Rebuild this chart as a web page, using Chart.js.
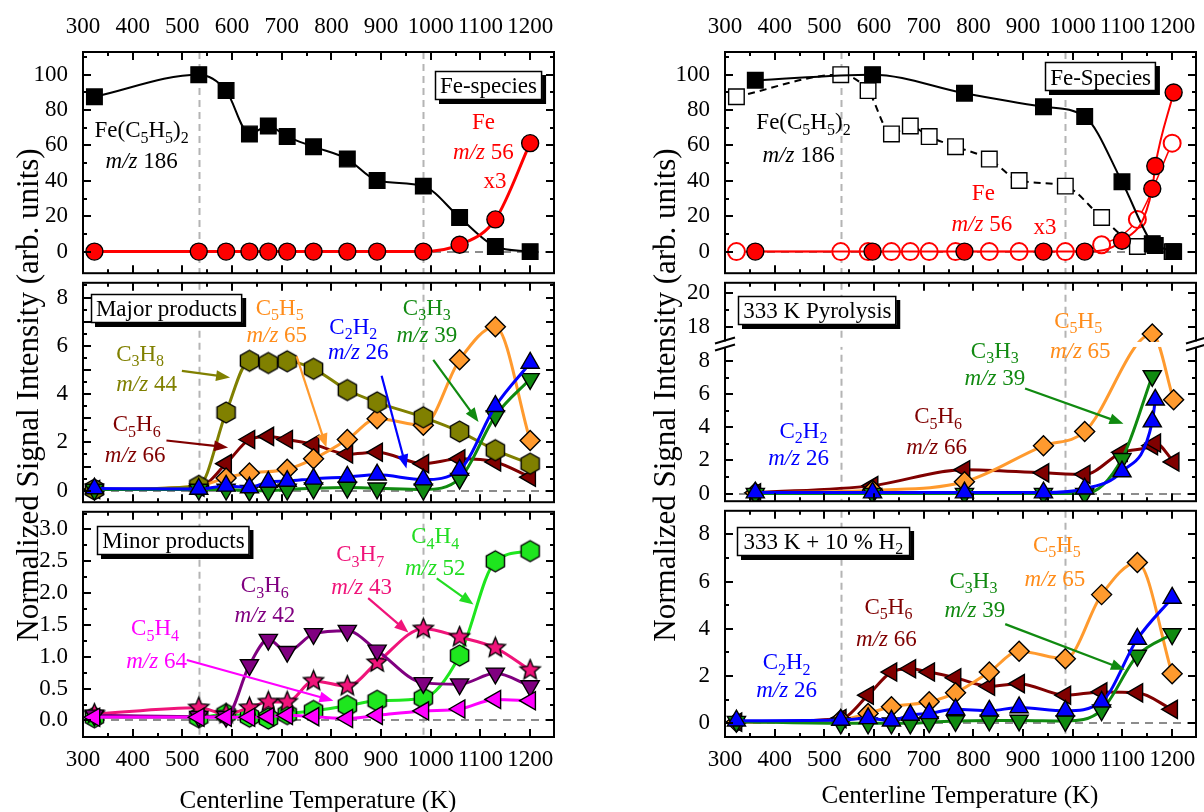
<!DOCTYPE html>
<html>
<head>
<meta charset="utf-8">
<script src="https://cdn.jsdelivr.net/npm/chart.js@4.4.1/dist/chart.umd.min.js"></script>
<style>
  html, body { margin: 0; padding: 0; background: #fff; }
  #wrap { position: relative; width: 1204px; height: 812px; overflow: hidden; background: #fff;
          font-family: "Liberation Serif", "Times New Roman", serif; color: #000; }
  #wrap canvas { position: absolute; }
  .ytitle { position: absolute; width: 640px; height: 36px; line-height: 36px; text-align: center;
            font-size: 31px; transform: rotate(-90deg); white-space: nowrap; }
  .xtitle { position: absolute; width: 400px; height: 32px; line-height: 32px; text-align: center;
            font-size: 25px; white-space: nowrap; }
</style>
</head>
<body>
<div id="wrap">
  <canvas id="feL"></canvas>
  <canvas id="majorL"></canvas>
  <canvas id="minorL"></canvas>
  <canvas id="feR"></canvas>
  <canvas id="pyroR"></canvas>
  <canvas id="h2R"></canvas>
  <div class="ytitle" style="left:-292px; top:377px;">Normalized Signal Intensity (arb. units)</div>
  <div class="ytitle" style="left:345px; top:377px;">Normalized Signal Intensity (arb. units)</div>
  <div class="xtitle" style="left:118px; top:784px;">Centerline Temperature (K)</div>
  <div class="xtitle" style="left:760px; top:779px;">Centerline Temperature (K)</div>
</div>
<script>
// ---------------- temperatures (K) ----------------
const tempsA = [323, 533, 588, 635, 673, 711, 764, 832, 892, 985, 1058, 1130, 1200];
const tempsB = [361, 597, 782, 941, 1024, 1099, 1160, 1166, 1203];
const xTickLabels = [300, 400, 500, 600, 700, 800, 900, 1000, 1100, 1200];
const refLines = [533, 985];

// ---------------- Fe species ----------------
const fecp2 = [87.5, 100, 91, 66.5, 71, 65, 59.3, 52.3, 40.2, 37, 19.3, 2.9, 0];
const fe    = [0, 0, 0, 0, 0, 0, 0, 0, 0, 0, 3.9, 18.2, 61.3];
const fecp2Pyro = [96.8, 100, 89.5, 81.9, 76.3, 39.5, 4.5, 3.5, 0];
const fePyro    = [0, 0, 0, 0, 0, 6.1, 35.5, 48.4, 89.9];

// ---------------- major products ----------------
const c3h8 = [0.05, 0.2, 3.24, 5.38, 5.29, 5.36, 5.05, 4.17, 3.66, 3.04, 2.45, 1.68, 1.12];
const c5h5 = [0.05, 0.2, 0.53, 0.73, null, 0.89, 1.32, 2.12, 2.98, 2.71, 5.42, 6.79, 2.08];
const c2h2 = [0.09, 0.07, 0.2, 0.13, 0.36, 0.4, 0.49, 0.57, 0.66, 0.46, 0.86, 3.5, 5.29];
const c3h3 = [0.05, 0.05, 0.05, 0.0, 0.0, 0.05, 0.1, 0.13, 0.1, 0.05, 0.5, 3.1, 4.63];
const c5h6 = [0.05, 0.15, 1.12, 2.12, 2.25, 2.12, 1.92, 1.52, 1.59, 1.12, 1.32, 1.19, 0.56];

// ---------------- minor products ----------------
const c5h4 = [0.05, 0.05, 0.05, 0.05, 0.06, 0.08, 0.06, 0.03, 0.08, 0.15, 0.18, 0.33, 0.31];
const c3h6 = [0.08, 0.06, 0.06, 0.87, 1.27, 1.08, 1.36, 1.41, 1.10, 0.59, 0.57, 0.74, 0.54];
const c3h7 = [0.1, 0.2, 0.1, 0.2, 0.29, 0.29, 0.62, 0.54, 0.91, 1.44, 1.31, 1.14, 0.79];
const c4h4 = [0.05, 0.05, 0.1, 0.06, 0.03, 0.1, 0.15, 0.23, 0.31, 0.35, 1.02, 2.5, 2.66];

// ---------------- 333 K pyrolysis ----------------
const c5h5Pyro = [0.05, 0.2, 0.71, 2.88, 3.74, null, 17.6, null, 5.66];
const c2h2Pyro = [0.06, 0.06, 0.06, 0.06, 0.29, 1.33, 4.34, 5.66, null];
const c3h3Pyro = [0.0, 0.0, 0.0, 0.0, 0.0, 2.1, 7.1, null, null];
const c5h6Pyro = [0.05, 0.48, 1.44, 1.25, 1.16, 2.49, 2.89, 3.05, 1.91];
const pyroTickLabels = [0, 2, 4, 6, 8, 18, 20];

// ---------------- 333 K + 10 % H2 ----------------
const c5h5H2 = [0.05, 0.15, 0.42, 0.70, null, 0.91, 1.29, 2.17, 3.05, 2.73, 5.45, 6.81, 2.10];
const c2h2H2 = [0.11, 0.14, 0.21, 0.11, 0.35, 0.42, 0.59, 0.53, 0.67, 0.53, 0.91, 3.57, 5.31];
const c3h3H2 = [0.07, 0.0, 0.0, 0.0, 0.0, 0.05, 0.1, 0.12, 0.12, 0.1, 0.56, 2.87, 3.78];
const c5h6H2 = [0.05, 0.2, 1.19, 2.17, 2.31, 2.17, 1.93, 1.57, 1.68, 1.19, 1.33, 1.29, 0.59];

// ---------------- styling ----------------
const FONT = '"Liberation Serif", "Times New Roman", serif';
const COL = {
  black: '#000000', red: '#ff0000', olive: '#808000', orange: '#ff9a2e', blue: '#0000ff',
  green: '#108a10', dkred: '#800000', magenta: '#ff00ff', purple: '#800080',
  pink: '#f0147a', lime: '#1ee61e'
};
const TXT = { orange: '#ff8c1a', green: '#128a12', olive: '#808000', lime: '#22dd22' };

// axis break for the pyrolysis panel: 0..9 kept, 17.. continues above the break
const brk = v => (v <= 9 ? v : 9 + (v - 17) * 1.04);

function pts(xs, ys, f) {
  const out = [];
  xs.forEach((x, i) => { if (ys[i] != null) out.push({ x, y: f ? f(ys[i]) : ys[i] }); });
  return out;
}

function shapeCanvas(kind, fill, r) {
  const s = Math.ceil(r * 2 + 4);
  const c = document.createElement('canvas');
  c.width = s; c.height = s;
  const g = c.getContext('2d');
  g.translate(s / 2, s / 2);
  g.beginPath();
  if (kind === 'hex') {
    for (let i = 0; i < 6; i++) {
      const a = -Math.PI / 2 + i * Math.PI / 3;
      const px = Math.cos(a) * r, py = Math.sin(a) * r;
      i ? g.lineTo(px, py) : g.moveTo(px, py);
    }
  } else {
    for (let i = 0; i < 10; i++) {
      const a = -Math.PI / 2 + i * Math.PI / 5;
      const rr = i % 2 ? r * 0.45 : r;
      const px = Math.cos(a) * rr, py = Math.sin(a) * rr;
      i ? g.lineTo(px, py) : g.moveTo(px, py);
    }
  }
  g.closePath();
  g.fillStyle = fill; g.fill();
  g.lineWidth = 1.4; g.strokeStyle = '#000'; g.stroke();
  return c;
}

function series(xs, ys, o, f) {
  return {
    data: pts(xs, ys, f),
    borderColor: o.line,
    backgroundColor: o.fill,
    borderWidth: o.lw == null ? 3 : o.lw,
    borderDash: o.dash || [],
    pointStyle: o.shape,
    pointRadius: o.r,
    pointRotation: o.rot || 0,
    pointBackgroundColor: o.fill,
    pointBorderColor: o.edge || '#000',
    pointBorderWidth: o.ew == null ? 1.4 : o.ew,
    cubicInterpolationMode: 'monotone',
    fill: false
  };
}

const SQ = { shape: 'rect', r: 11 };
const CIR = { shape: 'circle', r: 8.5 };
const DIA = { shape: 'rectRot', r: 10 };
const UP = { shape: 'triangle', r: 10.5 };
const DOWN = { shape: 'triangle', r: 10.5, rot: 180 };
const LEFT = { shape: 'triangle', r: 10.5, rot: 270 };
const hexOlive = shapeCanvas('hex', COL.olive, 10.5);
const hexLime = shapeCanvas('hex', COL.lime, 10.5);
const starPink = shapeCanvas('star', COL.pink, 10.5);

// ---------------- drawing helpers ----------------
function richText(ctx, text, x, y, color, size) {
  const segs = [];
  let it = false;
  for (let i = 0; i < text.length; i++) {
    const ch = text[i];
    if (ch === '*') { it = !it; continue; }
    if (ch === '_') { segs.push({ t: text[i + 1], sub: true, it }); i++; continue; }
    const last = segs[segs.length - 1];
    if (last && !last.sub && last.it === it) last.t += ch; else segs.push({ t: ch, sub: false, it });
  }
  const fontOf = s => (s.it ? 'italic ' : '') + (s.sub ? Math.round(size * 0.68) : size) + 'px ' + FONT;
  let w = 0;
  segs.forEach(s => { ctx.font = fontOf(s); s.w = ctx.measureText(s.t).width; w += s.w; });
  let cx = x - w / 2;
  const base = y + size * 0.33;
  ctx.fillStyle = color;
  ctx.textBaseline = 'alphabetic';
  ctx.textAlign = 'left';
  segs.forEach(s => { ctx.font = fontOf(s); ctx.fillText(s.t, cx, base + (s.sub ? size * 0.24 : 0)); cx += s.w; });
  return w;
}

function arrow(ctx, x1, y1, x2, y2, color) {
  const a = Math.atan2(y2 - y1, x2 - x1), L = 14, W = 5.5;
  ctx.strokeStyle = color; ctx.fillStyle = color; ctx.lineWidth = 2.2; ctx.setLineDash([]);
  ctx.beginPath(); ctx.moveTo(x1, y1);
  ctx.lineTo(x2 - Math.cos(a) * L * 0.8, y2 - Math.sin(a) * L * 0.8); ctx.stroke();
  ctx.beginPath();
  ctx.moveTo(x2, y2);
  ctx.lineTo(x2 - Math.cos(a) * L - Math.sin(a) * W, y2 - Math.sin(a) * L + Math.cos(a) * W);
  ctx.lineTo(x2 - Math.cos(a) * L + Math.sin(a) * W, y2 - Math.sin(a) * L - Math.cos(a) * W);
  ctx.closePath(); ctx.fill();
}

function decoPlugin(cfg) {
  return {
    id: 'deco',
    beforeDatasetsDraw(chart) {
      const { ctx, chartArea: a, scales: { x, y } } = chart;
      ctx.save();
      ctx.lineWidth = 2;
      ctx.strokeStyle = '#b4b4b4';
      ctx.setLineDash([7, 5]);
      refLines.forEach(t => {
        const px = Math.round(x.getPixelForValue(t)) + 0.5;
        ctx.beginPath(); ctx.moveTo(px, a.top); ctx.lineTo(px, a.bottom); ctx.stroke();
      });
      ctx.strokeStyle = '#8c8c8c';
      ctx.setLineDash([8, 6]);
      const py0 = Math.round(y.getPixelForValue(0));
      ctx.beginPath(); ctx.moveTo(a.left, py0); ctx.lineTo(a.right, py0); ctx.stroke();
      ctx.restore();
    },
    afterDatasetsDraw(chart) {
      const { ctx, chartArea: a, scales: { x, y } } = chart;
      const X = v => x.getPixelForValue(v), Y = v => y.getPixelForValue(v);
      ctx.save();
      ctx.setLineDash([]);
      // gap in the curves at the axis break
      if (cfg.breakAt != null) {
        ctx.fillStyle = '#fff';
        ctx.fillRect(a.left + 1, Y(cfg.breakAt) - 2.5, a.right - a.left - 2, 5);
      }
      // frame
      ctx.strokeStyle = '#000'; ctx.lineWidth = 2;
      ctx.strokeRect(a.left, a.top, a.right - a.left, a.bottom - a.top);
      // inward ticks
      ctx.lineWidth = 2;
      ctx.beginPath();
      for (let t = 300; t <= 1250; t += 50) {
        const len = t % 100 === 0 ? 8 : 4;
        const px = Math.round(X(t));
        if (px <= a.left + 1 || px >= a.right - 1) continue;
        ctx.moveTo(px, a.top); ctx.lineTo(px, a.top + len);
        ctx.moveTo(px, a.bottom); ctx.lineTo(px, a.bottom - len);
      }
      const yt = (v, len) => {
        const py = Math.round(Y(v));
        if (py <= a.top + 1 || py >= a.bottom - 1) return;
        ctx.moveTo(a.left, py); ctx.lineTo(a.left + len, py);
        ctx.moveTo(a.right, py); ctx.lineTo(a.right - len, py);
      };
      cfg.yMajor.forEach(v => yt(v, 8));
      cfg.yMinor.forEach(v => yt(v, 4));
      ctx.stroke();
      // axis break marks
      if (cfg.breakAt != null) {
        const py = Y(cfg.breakAt);
        [a.left, a.right].forEach(px => {
          ctx.fillStyle = '#fff';
          ctx.fillRect(px - 3, py - 3, 6, 6);
          ctx.strokeStyle = '#000'; ctx.lineWidth = 2;
          ctx.beginPath();
          ctx.moveTo(px - 10, py - 1); ctx.lineTo(px + 10, py - 7);
          ctx.moveTo(px - 10, py + 6); ctx.lineTo(px + 10, py);
          ctx.stroke();
        });
      }
      // arrows
      (cfg.arrows || []).forEach(r => arrow(ctx, X(r.from[0]), Y(r.from[1]), X(r.to[0]), Y(r.to[1]), r.c));
      // species labels
      (cfg.texts || []).forEach(tx => richText(ctx, tx.t, X(tx.x), Y(tx.y), tx.c, 23));
      // panel caption box
      if (cfg.box) {
        const b = cfg.box;
        const cx = X(b.x), cy = Y(b.y);
        const probe = document.createElement('canvas').getContext('2d');
        probe.font = '23px ' + FONT;
        const w = probe.measureText(b.plain).width;
        const bw = w + 10, bh = 29;
        const bx = Math.round(cx - bw / 2), by = Math.round(cy - bh / 2);
        ctx.fillStyle = '#000'; ctx.fillRect(bx + 4, by + 4, bw, bh);
        ctx.fillStyle = '#fff'; ctx.fillRect(bx, by, bw, bh);
        ctx.strokeStyle = '#000'; ctx.lineWidth = 1.5; ctx.strokeRect(bx + 0.5, by + 0.5, bw - 1, bh - 1);
        richText(ctx, b.t, cx, cy, '#000', 23);
      }
      ctx.restore();
    }
  };
}

const tickFont = { family: FONT, size: 23 };

function panel(id, area, xPos, yOpt, datasets, deco) {
  const AXW = 80, RIGHT = 14;
  const topM = xPos === 'top' ? 54 : 16;
  const botM = xPos === 'bottom' ? 50 : 16;
  const cv = document.getElementById(id);
  cv.width = area.width + AXW + RIGHT;
  cv.height = area.height + topM + botM;
  cv.style.left = (area.left - AXW) + 'px';
  cv.style.top = (area.top - topM) + 'px';
  return new Chart(cv, {
    type: 'line',
    data: { datasets },
    options: {
      responsive: false, animation: false, events: [],
      layout: { padding: { left: 0, right: RIGHT, top: xPos === 'top' ? 0 : topM, bottom: xPos === 'none' ? 0 : (xPos === 'top' ? botM : 0) } },
      plugins: { legend: { display: false }, tooltip: { enabled: false } },
      scales: {
        x: {
          type: 'linear', min: 300, max: 1248,
          position: xPos === 'top' ? 'top' : 'bottom',
          display: xPos !== 'none',
          grid: { display: false }, border: { display: false },
          ticks: { font: tickFont, color: '#000', padding: xPos === 'top' ? 3 : 1, maxRotation: 0, autoSkip: false,
                   callback: v => String(v) },
          afterBuildTicks: s => { s.ticks = xTickLabels.map(v => ({ value: v })); },
          afterFit: s => { s.height = xPos === 'top' ? topM : botM; }
        },
        y: {
          type: 'linear', min: yOpt.min, max: yOpt.max,
          grid: { display: false }, border: { display: false },
          ticks: { font: tickFont, color: '#000', padding: 7, callback: yOpt.fmt },
          afterBuildTicks: s => { s.ticks = yOpt.ticks.map(v => ({ value: v })); },
          afterFit: s => { s.width = AXW; }
        }
      }
    },
    plugins: [decoPlugin(deco)]
  });
}

const intFmt = v => String(Math.round(v));

// ---------------- left column ----------------
panel('feL', { left: 83, top: 52, width: 471, height: 226 }, 'top',
  { min: -12.2, max: 112.8, ticks: [0, 20, 40, 60, 80, 100], fmt: intFmt },
  [
    series(tempsA, fe, { ...CIR, fill: COL.red, line: COL.red, lw: 3 }),
    series(tempsA, fecp2, { ...SQ, fill: COL.black, line: COL.black, lw: 2 })
  ],
  {
    yMajor: [0, 20, 40, 60, 80, 100], yMinor: [10, 30, 50, 70, 90, 110],
    box: { x: 1116, y: 94.1, t: 'Fe-species', plain: 'Fe-species' },
    texts: [
      { x: 418, y: 68.8, t: 'Fe(C_5H_5)_2', c: '#000' },
      { x: 418, y: 51.3, t: '*m/z* 186', c: '#000' },
      { x: 1106, y: 73.4, t: 'Fe', c: COL.red },
      { x: 1106, y: 56.8, t: '*m/z* 56', c: COL.red },
      { x: 1129, y: 40.2, t: 'x3', c: COL.red }
    ]
  });

panel('majorL', { left: 83, top: 278, width: 471, height: 229 }, 'none',
  { min: -0.476, max: 8.61, ticks: [0, 1, 2, 3, 4, 5, 6, 7, 8], fmt: intFmt },
  [
    series(tempsA, c2h2, { ...UP, fill: COL.blue, line: COL.blue }),
    series(tempsA, c3h3, { ...DOWN, fill: COL.green, line: COL.green }),
    series(tempsA, c3h8, { shape: hexOlive, r: 10.5, fill: COL.olive, line: COL.olive }),
    series(tempsA, c5h5, { ...DIA, fill: COL.orange, line: COL.orange }),
    series(tempsA, c5h6, { ...LEFT, fill: COL.dkred, line: COL.dkred })
  ],
  {
    yMajor: [0, 1, 2, 3, 4, 5, 6, 7, 8], yMinor: [0.5, 1.5, 2.5, 3.5, 4.5, 5.5, 6.5, 7.5, 8.5],
    box: { x: 468, y: 7.54, t: 'Major products', plain: 'Major products' },
    arrows: [
      { from: [499, 4.96], to: [596, 4.69], c: COL.olive },
      { from: [730, 5.56], to: [790, 1.79], c: COL.orange },
      { from: [901, 4.76], to: [951, 0.92], c: COL.blue },
      { from: [1005, 5.42], to: [1096, 2.85], c: COL.green },
      { from: [468, 2.08], to: [592, 1.79], c: COL.dkred }
    ],
    texts: [
      { x: 696, y: 7.61, t: 'C_5H_5', c: TXT.orange },
      { x: 690, y: 6.48, t: '*m/z* 65', c: TXT.orange },
      { x: 844, y: 6.81, t: 'C_2H_2', c: COL.blue },
      { x: 854, y: 5.75, t: '*m/z* 26', c: COL.blue },
      { x: 992, y: 7.61, t: 'C_3H_3', c: TXT.green },
      { x: 992, y: 6.48, t: '*m/z* 39', c: TXT.green },
      { x: 415, y: 5.69, t: 'C_3H_8', c: TXT.olive },
      { x: 428, y: 4.43, t: '*m/z* 44', c: TXT.olive },
      { x: 408, y: 2.78, t: 'C_5H_6', c: COL.dkred },
      { x: 405, y: 1.52, t: '*m/z* 66', c: COL.dkred }
    ]
  });

panel('minorL', { left: 83, top: 507, width: 471, height: 230 }, 'bottom',
  { min: -0.26, max: 3.277, ticks: [0, 0.5, 1, 1.5, 2, 2.5, 3], fmt: v => v.toFixed(1) },
  [
    series(tempsA, c5h4, { ...LEFT, fill: COL.magenta, line: COL.magenta }),
    series(tempsA, c3h6, { ...DOWN, fill: COL.purple, line: COL.purple }),
    series(tempsA, c3h7, { shape: starPink, r: 10.5, fill: COL.pink, line: COL.pink }),
    series(tempsA, c4h4, { shape: hexLime, r: 10.5, fill: COL.lime, line: COL.lime })
  ],
  {
    yMajor: [0, 0.5, 1, 1.5, 2, 2.5, 3], yMinor: [0.25, 0.75, 1.25, 1.75, 2.25, 2.75, 3.25],
    box: { x: 482, y: 2.82, t: 'Minor products', plain: 'Minor products' },
    arrows: [
      { from: [509, 0.95], to: [804, 0.31], c: COL.magenta },
      { from: [874, 1.92], to: [955, 1.38], c: COL.pink },
      { from: [1012, 2.23], to: [1086, 1.82], c: TXT.lime }
    ],
    texts: [
      { x: 445, y: 1.46, t: 'C_5H_4', c: COL.magenta },
      { x: 448, y: 0.95, t: '*m/z* 64', c: COL.magenta },
      { x: 666, y: 2.13, t: 'C_3H_6', c: COL.purple },
      { x: 666, y: 1.67, t: '*m/z* 42', c: COL.purple },
      { x: 858, y: 2.62, t: 'C_3H_7', c: COL.pink },
      { x: 861, y: 2.10, t: '*m/z* 43', c: COL.pink },
      { x: 1009, y: 2.90, t: 'C_4H_4', c: TXT.lime },
      { x: 1009, y: 2.41, t: '*m/z* 52', c: TXT.lime }
    ]
  });

// ---------------- right column ----------------
panel('feR', { left: 725, top: 52, width: 471, height: 226 }, 'top',
  { min: -12.2, max: 112.8, ticks: [0, 20, 40, 60, 80, 100], fmt: intFmt },
  [
    series(tempsB, fePyro, { ...CIR, fill: COL.red, line: COL.red, lw: 2 }),
    series(tempsB, fecp2Pyro, { ...SQ, fill: COL.black, line: COL.black, lw: 2 }),
    series(tempsA, fe, { ...CIR, fill: '#ffffff', line: COL.red, edge: COL.red, ew: 2, lw: 1.5 }),
    series(tempsA, fecp2, { ...SQ, fill: '#ffffff', line: COL.black, lw: 2, dash: [7, 5] })
  ],
  {
    yMajor: [0, 20, 40, 60, 80, 100], yMinor: [10, 30, 50, 70, 90, 110],
    box: { x: 1056, y: 98.7, t: 'Fe-Species', plain: 'Fe-Species' },
    texts: [
      { x: 458, y: 73.4, t: 'Fe(C_5H_5)_2', c: '#000' },
      { x: 448, y: 54.9, t: '*m/z* 186', c: '#000' },
      { x: 820, y: 33.7, t: 'Fe', c: COL.red },
      { x: 817, y: 16.2, t: '*m/z* 56', c: COL.red },
      { x: 944, y: 14.4, t: 'x3', c: COL.red }
    ]
  });

panel('pyroR', { left: 725, top: 278, width: 471, height: 228 }, 'none',
  { min: -0.46, max: 12.72, ticks: pyroTickLabels.map(brk),
    fmt: v => { const i = pyroTickLabels.findIndex(t => Math.abs(brk(t) - v) < 1e-6); return i < 0 ? '' : String(pyroTickLabels[i]); } },
  [
    series(tempsB, c2h2Pyro, { ...UP, fill: COL.blue, line: COL.blue }, brk),
    series(tempsB, c3h3Pyro, { ...DOWN, fill: COL.green, line: COL.green }, brk),
    series(tempsB, c5h5Pyro, { ...DIA, fill: COL.orange, line: COL.orange }, brk),
    series(tempsB, c5h6Pyro, { ...LEFT, fill: COL.dkred, line: COL.dkred }, brk)
  ],
  {
    breakAt: 9,
    yMajor: pyroTickLabels.map(brk), yMinor: [1, 3, 5, 7, brk(19)],
    box: { x: 486, y: 11.04, t: '333 K Pyrolysis', plain: '333 K Pyrolysis' },
    arrows: [ { from: [904, 6.34], to: [1102, 4.22], c: COL.green } ],
    texts: [
      { x: 1011, y: 10.48, t: 'C_5H_5', c: TXT.orange },
      { x: 1015, y: 8.65, t: '*m/z* 65', c: TXT.orange },
      { x: 843, y: 8.65, t: 'C_3H_3', c: TXT.green },
      { x: 843, y: 7.01, t: '*m/z* 39', c: TXT.green },
      { x: 729, y: 4.70, t: 'C_5H_6', c: COL.dkred },
      { x: 726, y: 2.87, t: '*m/z* 66', c: COL.dkred },
      { x: 458, y: 3.83, t: 'C_2H_2', c: COL.blue },
      { x: 448, y: 2.20, t: '*m/z* 26', c: COL.blue }
    ]
  });

panel('h2R', { left: 725, top: 506, width: 471, height: 231 }, 'bottom',
  { min: -0.58, max: 9.0, ticks: [0, 2, 4, 6, 8], fmt: intFmt },
  [
    series(tempsA, c2h2H2, { ...UP, fill: COL.blue, line: COL.blue }),
    series(tempsA, c3h3H2, { ...DOWN, fill: COL.green, line: COL.green }),
    series(tempsA, c5h5H2, { ...DIA, fill: COL.orange, line: COL.orange }),
    series(tempsA, c5h6H2, { ...LEFT, fill: COL.dkred, line: COL.dkred })
  ],
  {
    yMajor: [0, 2, 4, 6, 8], yMinor: [1, 3, 5, 7],
    box: { x: 498, y: 7.71, t: '333 K + 10 % H_2', plain: '333 K + 10 % H2' },
    arrows: [ { from: [864, 4.20], to: [1105, 2.27], c: COL.green } ],
    texts: [
      { x: 968, y: 7.59, t: 'C_5H_5', c: TXT.orange },
      { x: 964, y: 6.14, t: '*m/z* 65', c: TXT.orange },
      { x: 800, y: 6.07, t: 'C_3H_3', c: TXT.green },
      { x: 803, y: 4.83, t: '*m/z* 39', c: TXT.green },
      { x: 629, y: 4.97, t: 'C_5H_6', c: COL.dkred },
      { x: 625, y: 3.58, t: '*m/z* 66', c: COL.dkred },
      { x: 424, y: 2.61, t: 'C_2H_2', c: COL.blue },
      { x: 424, y: 1.44, t: '*m/z* 26', c: COL.blue }
    ]
  });
</script>
</body>
</html>
